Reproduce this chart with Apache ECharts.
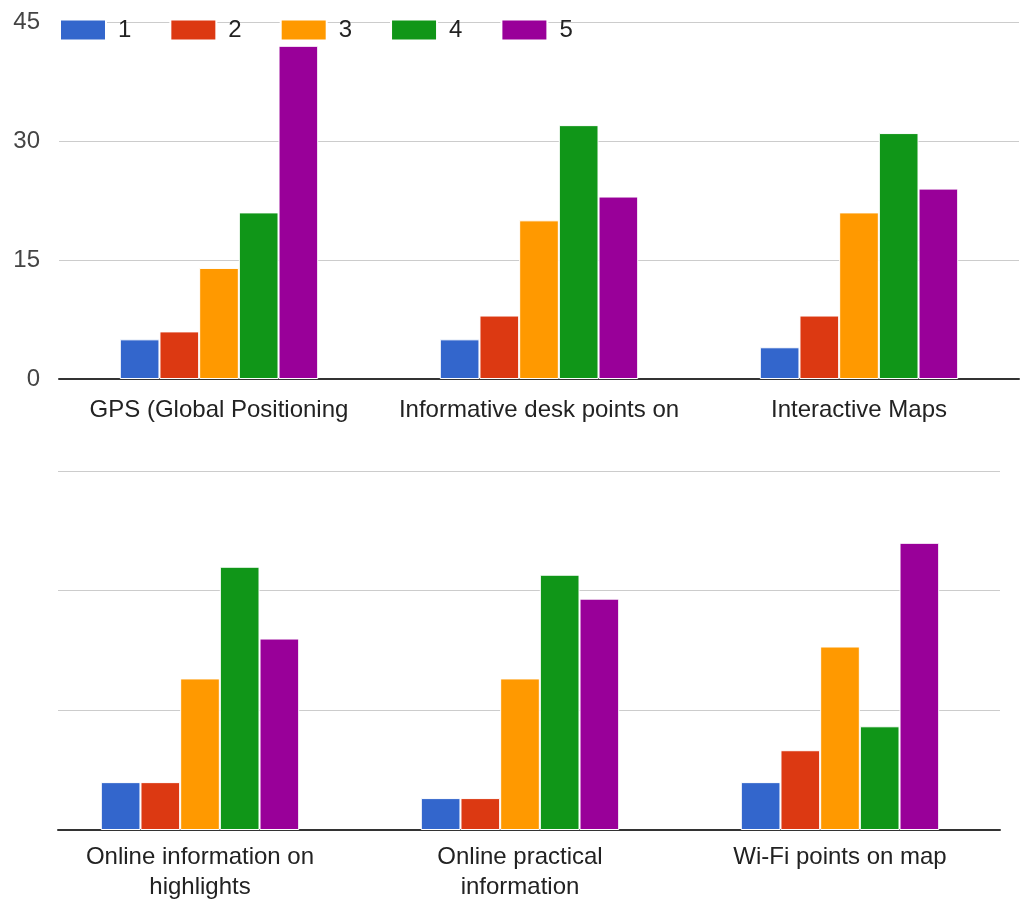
<!DOCTYPE html>
<html>
<head>
<meta charset="utf-8">
<title>Ratings by feature</title>
<script src="https://cdn.jsdelivr.net/npm/echarts@6/dist/echarts.min.js"></script>
<style>
  html, body { margin: 0; padding: 0; background: #ffffff; }
  #chart { width: 1021px; height: 902px; }
</style>
</head>
<body>
<div id="chart"></div>
<script>
// Feature names (axis labels) for the upper and lower panels
const topCategories = ['GPS (Global Positioning', 'Informative desk points on', 'Interactive Maps'];
const bottomCategories = ['Online information on\nhighlights', 'Online practical\ninformation', 'Wi-Fi points on map'];

// Rating levels shown in the legend
const ratings = ['1', '2', '3', '4', '5'];

// Number of answers per rating, one value per feature (upper panel first, then lower)
const rating1 = [5, 5, 4, 6, 4, 6];
const rating2 = [6, 8, 8, 6, 4, 10];
const rating3 = [14, 20, 21, 19, 19, 23];
const rating4 = [21, 32, 31, 33, 32, 13];
const rating5 = [42, 23, 24, 24, 29, 36];

// Value axis ticks
const yMin = 0, yMax = 45, yStep = 15;

const colors = ['#3366cc', '#dc3912', '#ff9900', '#109618', '#990099'];
const ratingValues = [rating1, rating2, rating3, rating4, rating5];
const font = 'Arial, "Liberation Sans", sans-serif';

const series = [];
ratings.forEach((name, i) => {
  const common = {
    name: name,
    type: 'bar',
    barGap: '0%',
    barCategoryGap: '38%',
    itemStyle: { color: colors[i], borderColor: '#ffffff', borderWidth: 1 },
    emphasis: { disabled: true }
  };
  series.push(Object.assign({}, common, {
    xAxisIndex: 0, yAxisIndex: 0,
    data: ratingValues[i].slice(0, 3)
  }));
  series.push(Object.assign({}, common, {
    xAxisIndex: 2, yAxisIndex: 2,
    data: ratingValues[i].slice(3, 6)
  }));
});

const gridLine = { show: true, lineStyle: { color: '#cccccc', width: 1 } };
const baseLine = { show: true, lineStyle: { color: '#333333', width: 2 } };

const option = {
  animation: false,
  textStyle: { fontFamily: font },
  color: colors,
  legend: {
    data: ratings,
    left: 59,
    top: 18,
    padding: 0,
    itemWidth: 46,
    itemHeight: 21,
    itemGap: 38,
    icon: 'rect',
    selectedMode: false,
    textStyle: { fontSize: 24, color: '#222222', fontFamily: font, padding: [0, 0, 0, 7] }
  },
  grid: [
    { left: 59, top: 22, width: 960, height: 357 },
    { left: 58, top: 471, width: 942, height: 359 },
    { left: 40, top: 471, width: 960, height: 359 }
  ],
  xAxis: [
    {
      gridIndex: 0, type: 'category', data: topCategories,
      axisLine: baseLine, axisTick: { show: false },
      axisLabel: { fontSize: 24, color: '#222222', margin: 16, lineHeight: 30, fontFamily: font, interval: 0 }
    },
    {
      gridIndex: 1, type: 'category', data: bottomCategories,
      axisLine: baseLine, axisTick: { show: false }, axisLabel: { show: false }
    },
    {
      gridIndex: 2, type: 'category', data: bottomCategories,
      axisLine: { show: false }, axisTick: { show: false },
      axisLabel: { fontSize: 24, color: '#222222', margin: 12, lineHeight: 30, fontFamily: font, interval: 0 }
    }
  ],
  yAxis: [
    {
      gridIndex: 0, type: 'value', min: yMin, max: yMax, interval: yStep,
      axisLine: { show: false }, axisTick: { show: false },
      axisLabel: { fontSize: 24, color: '#444444', margin: 19, fontFamily: font },
      splitLine: gridLine
    },
    {
      gridIndex: 1, type: 'value', min: yMin, max: yMax, interval: yStep,
      axisLine: { show: false }, axisTick: { show: false },
      axisLabel: { show: false }, splitLine: gridLine
    },
    {
      gridIndex: 2, type: 'value', min: yMin, max: yMax, interval: yStep,
      axisLine: { show: false }, axisTick: { show: false },
      axisLabel: { show: false }, splitLine: { show: false }
    }
  ],
  series: series
};

const chart = echarts.init(document.getElementById('chart'), null, { renderer: 'canvas' });
chart.setOption(option);
</script>
</body>
</html>
